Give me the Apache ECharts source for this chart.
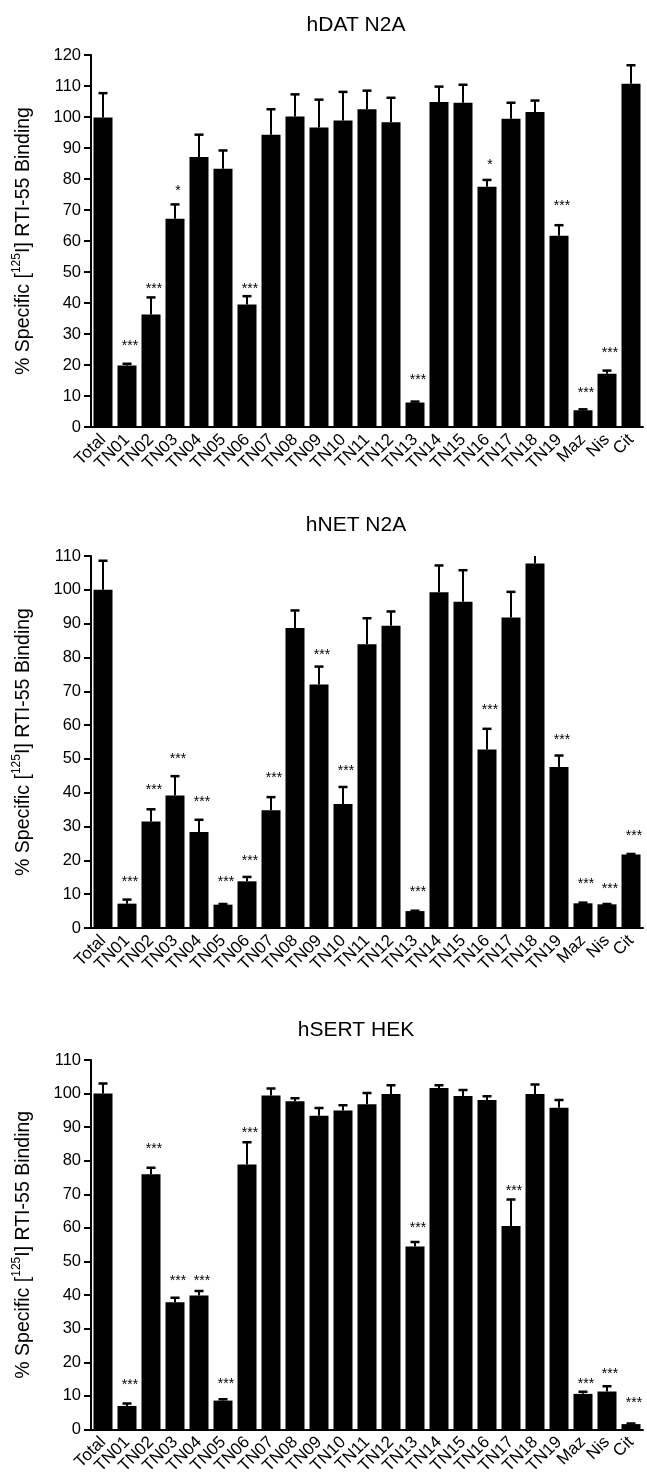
<!DOCTYPE html>
<html>
<head>
<meta charset="utf-8">
<script src="https://cdn.jsdelivr.net/npm/echarts@6/dist/echarts.min.js"></script>
<style>
html,body{margin:0;padding:0;background:#fff;}
#c{width:647px;height:1477px;}
</style>
</head>
<body>
<div id="c"></div>
<script>
const categories = ['Total','TN01','TN02','TN03','TN04','TN05','TN06','TN07','TN08','TN09','TN10','TN11','TN12','TN13','TN14','TN15','TN16','TN17','TN18','TN19','Maz','Nis','Cit'];

const titles = ['hDAT N2A', 'hNET N2A', 'hSERT HEK'];
const yMax = [120, 110, 110];
const yInterval = 10;

// hDAT N2A
const datVals = [99.8, 19.8, 36.3, 67.2, 87.1, 83.3, 39.5, 94.3, 100.2, 96.6, 98.9, 102.5, 98.3, 7.9, 104.8, 104.6, 77.5, 99.4, 101.6, 61.7, 5.4, 17.2, 110.7];
const datErr  = [107.7, 20.4, 41.8, 71.8, 94.3, 89.2, 42.2, 102.5, 107.3, 105.6, 108.1, 108.5, 106.2, 8.2, 109.8, 110.4, 79.7, 104.6, 105.3, 65.1, 5.7, 18.2, 116.7];
const datStarY = [null, 26.6, 45, 76.7, null, null, 45, null, null, null, null, null, null, 15.8, null, null, 85, null, null, 71.8, 11.5, 24.4, null];
const datSig   = ['', '***', '***', '*', '', '', '***', '', '', '', '', '', '', '***', '', '', '*', '', '', '***', '***', '***', ''];

// hNET N2A
const netVals = [100, 7.2, 31.5, 39.2, 28.4, 6.9, 13.8, 34.8, 88.7, 72, 36.7, 83.9, 89.4, 5.0, 99.3, 96.5, 52.8, 91.8, 107.8, 47.6, 7.3, 7.0, 21.7];
const netErr  = [108.6, 8.4, 35.1, 44.9, 32, 7.1, 15.1, 38.7, 93.9, 77.3, 41.7, 91.6, 93.6, 5.1, 107.2, 105.8, 58.9, 99.4, 111.5, 51, 7.5, 7.1, 21.9];
const netStarY = [null, 14.1, 41.4, 50.5, 37.7, 14.1, 20.5, 44.8, null, 81.3, 47.1, null, null, 11.3, null, null, 65.1, null, null, 56, 13.6, 12.1, 27.9];
const netSig   = ['', '***', '***', '***', '***', '***', '***', '***', '', '***', '***', '', '', '***', '', '', '***', '', '', '***', '***', '***', '***'];

// hSERT HEK
const sertVals = [100, 7.0, 76, 37.9, 39.9, 8.6, 78.9, 99.4, 97.7, 93.4, 95, 96.8, 99.9, 54.5, 101.7, 99.3, 98.1, 60.6, 99.9, 95.8, 10.6, 11.3, 1.6];
const sertErr  = [103, 7.7, 77.9, 39.2, 41.2, 9.0, 85.5, 101.5, 98.6, 95.7, 96.5, 100.2, 102.5, 55.8, 102.5, 101.1, 99.2, 68.5, 102.7, 98.1, 11.2, 12.9, 1.8];
const sertStarY = [null, 13.8, 84, 44.8, 44.8, 14.1, 88.7, null, null, null, null, null, null, 60.6, null, null, null, 71.7, null, null, 14.1, 17, 8.4];
const sertSig   = ['', '***', '***', '***', '***', '***', '***', '', '', '', '', '', '', '***', '', '', '', '***', '', '', '***', '***', '***'];

const panels = [
  {vals: datVals, err: datErr, starY: datStarY, sig: datSig},
  {vals: netVals, err: netErr, starY: netStarY, sig: netSig},
  {vals: sertVals, err: sertErr, starY: sertStarY, sig: sertSig}
];

const FONT = 'Liberation Sans, Arial, Helvetica, sans-serif';
const gridTops = [55, 556, 1060];
const gridH = [372, 372, 371];
const titleTops = [10, 510, 1015];

const chart = echarts.init(document.getElementById('c'), null, {renderer: 'canvas'});

const option = {
  backgroundColor: '#fff',
  animation: false,
  title: titles.map((t, i) => ({
    text: t, left: 351, top: titleTops[i], textAlign: 'center',
    textStyle: {fontFamily: FONT, fontSize: 21, fontWeight: 'normal', color: '#000'}
  })),
  grid: panels.map((p, i) => ({left: 91, width: 552, top: gridTops[i], height: gridH[i], containLabel: false})),
  xAxis: panels.map((p, i) => ({
    type: 'category', gridIndex: i, data: categories,
    axisLine: {lineStyle: {color: '#000', width: 2}},
    axisTick: {alignWithLabel: true, length: 7, lineStyle: {color: '#000', width: 2}},
    axisLabel: {interval: 0, rotate: 45, fontFamily: FONT, fontSize: 17, color: '#000', margin: 10},
    splitLine: {show: false}
  })),
  yAxis: panels.map((p, i) => ({
    type: 'value', gridIndex: i, min: 0, max: yMax[i], interval: yInterval,
    name: '% Specific [{sup|125}I] RTI-55 Binding',
    nameLocation: 'middle', nameGap: 54,
    nameTextStyle: {fontFamily: FONT, fontSize: 19.5, color: '#000',
      rich: {sup: {fontFamily: FONT, fontSize: 12, color: '#000', verticalAlign: 'top', lineHeight: 26}}},
    axisLine: {show: true, lineStyle: {color: '#000', width: 2}},
    axisTick: {show: true, length: 7, lineStyle: {color: '#000', width: 2}},
    axisLabel: {fontFamily: FONT, fontSize: 16.5, color: '#000', margin: 10},
    splitLine: {show: false}
  })),
  series: []
};

panels.forEach((p, i) => {
  option.series.push({
    type: 'custom', xAxisIndex: i, yAxisIndex: i, z: 1, clip: false,
    data: p.starY.map((y, k) => y == null ? null : [k, y, k]).filter(d => d),
    renderItem: (params, api) => {
      const k = api.value(2);
      const pt = api.coord([api.value(0), api.value(1)]);
      return {type: 'text', x: pt[0] + 3, y: pt[1] + 2,
        style: {text: p.sig[k], fill: '#000', font: '14px ' + FONT, align: 'center', verticalAlign: 'middle'}};
    }
  });
  option.series.push({
    type: 'bar', xAxisIndex: i, yAxisIndex: i, z: 2,
    data: p.vals, barWidth: 19,
    itemStyle: {color: '#000'}
  });
  option.series.push({
    type: 'custom', xAxisIndex: i, yAxisIndex: i, z: 3, clip: true,
    data: p.vals.map((v, k) => [k, v, p.err[k]]),
    encode: {x: 0, y: [1, 2]},
    renderItem: (params, api) => {
      const lo = api.coord([api.value(0), api.value(1)]);
      const hi = api.coord([api.value(0), api.value(2)]);
      return {type: 'group', children: [
        {type: 'line', shape: {x1: lo[0], y1: lo[1], x2: hi[0], y2: hi[1]}, style: {stroke: '#000', lineWidth: 2}},
        {type: 'line', shape: {x1: hi[0] - 4.5, y1: hi[1], x2: hi[0] + 4.5, y2: hi[1]}, style: {stroke: '#000', lineWidth: 2.5}}
      ]};
    }
  });
});

chart.setOption(option);
</script>
</body>
</html>
